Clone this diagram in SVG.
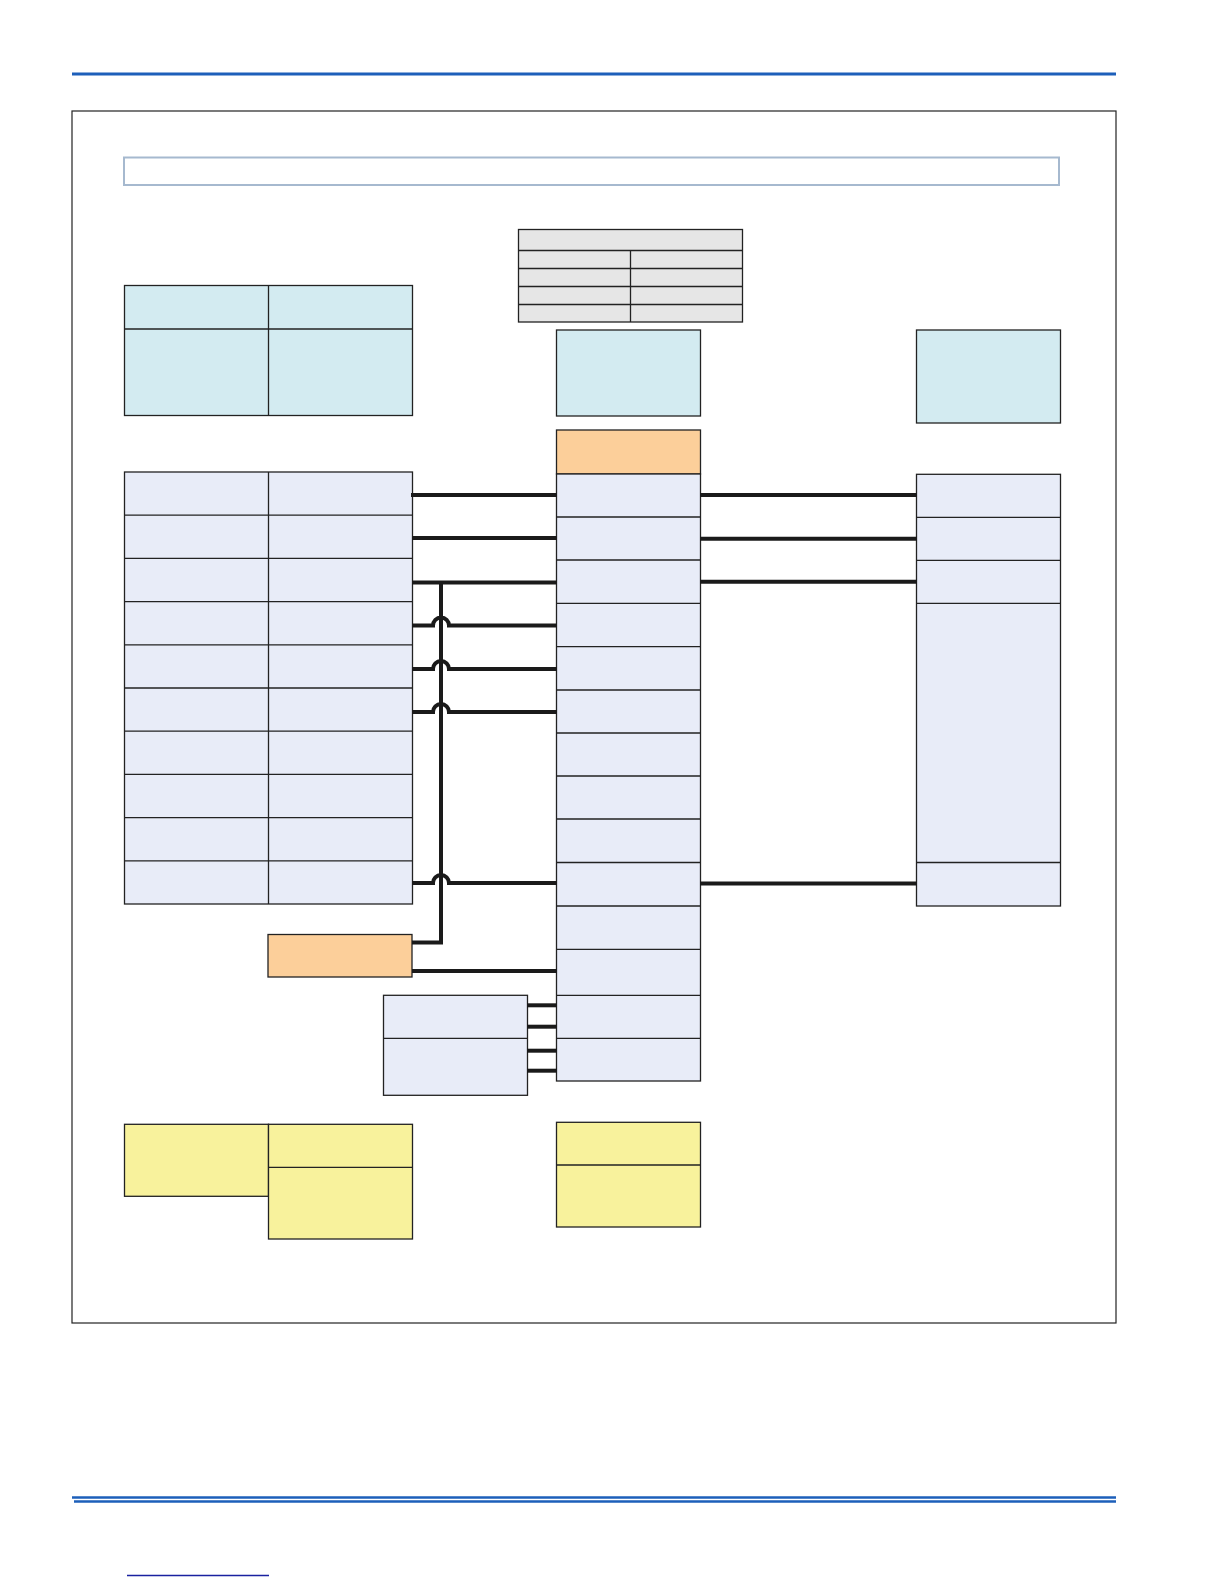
<svg xmlns="http://www.w3.org/2000/svg" width="1224" height="1584" viewBox="0 0 1224 1584">
  <style>
    .c { stroke: #222; stroke-width: 1.3; }
    .blue { fill: #d3ebf1; }
    .lav { fill: #e8ecf8; }
    .org { fill: #fccf9a; }
    .yel { fill: #f8f29c; }
    .gray { fill: #e6e6e6; }
    .wire { fill: none; stroke: #1a1a1a; stroke-width: 4; }
    .rule { stroke: #1d5fba; fill: none; }
  </style>
  <rect width="1224" height="1584" fill="#ffffff"/>

  <g id="page-rules">
    <line class="rule" x1="72" y1="74" x2="1116" y2="74" stroke-width="3"/>
    <line class="rule" x1="72" y1="1497.5" x2="1116" y2="1497.5" stroke-width="2.5"/>
    <line class="rule" x1="74" y1="1501.5" x2="1116" y2="1501.5" stroke-width="2.5"/>
    <line x1="127" y1="1575.5" x2="269" y2="1575.5" stroke="#1a22a0" stroke-width="1.5"/>
  </g>

  <g id="frame">
    <rect x="72" y="111" width="1044" height="1212" fill="#ffffff" stroke="#222" stroke-width="1.2"/>
  </g>

  <g id="title-bar">
    <rect x="124" y="157.5" width="935" height="27.5" fill="#ffffff" stroke="#a6b9cf" stroke-width="2"/>
  </g>

  <g id="legend-table">
    <rect class="c gray" x="518.5" y="229.5" width="224" height="92.5"/>
    <line class="c" x1="518.5" y1="250.5" x2="742.5" y2="250.5"/>
    <line class="c" x1="518.5" y1="268.5" x2="742.5" y2="268.5"/>
    <line class="c" x1="518.5" y1="286.5" x2="742.5" y2="286.5"/>
    <line class="c" x1="518.5" y1="304.5" x2="742.5" y2="304.5"/>
    <line class="c" x1="630.5" y1="250.5" x2="630.5" y2="322"/>
  </g>

  <g id="left-header">
    <rect class="c blue" x="124.5" y="285.5" width="288" height="130"/>
    <line class="c" x1="124.5" y1="329" x2="412.5" y2="329"/>
    <line class="c" x1="268.5" y1="285.5" x2="268.5" y2="415.5"/>
  </g>

  <g id="mid-header">
    <rect class="c blue" x="556.5" y="330" width="144" height="86"/>
  </g>

  <g id="right-header">
    <rect class="c blue" x="916.5" y="330" width="144" height="93"/>
  </g>

  <g id="mid-orange">
    <rect class="c org" x="556.5" y="430" width="144" height="44"/>
  </g>

  <g id="left-table">
    <rect class="c lav" x="124.5" y="472" width="288" height="432"/>
    <line class="c" x1="268.5" y1="472" x2="268.5" y2="904"/>
    <line class="c" x1="124.5" y1="515.2" x2="412.5" y2="515.2"/>
    <line class="c" x1="124.5" y1="558.4" x2="412.5" y2="558.4"/>
    <line class="c" x1="124.5" y1="601.6" x2="412.5" y2="601.6"/>
    <line class="c" x1="124.5" y1="644.8" x2="412.5" y2="644.8"/>
    <line class="c" x1="124.5" y1="688" x2="412.5" y2="688"/>
    <line class="c" x1="124.5" y1="731.2" x2="412.5" y2="731.2"/>
    <line class="c" x1="124.5" y1="774.4" x2="412.5" y2="774.4"/>
    <line class="c" x1="124.5" y1="817.6" x2="412.5" y2="817.6"/>
    <line class="c" x1="124.5" y1="860.8" x2="412.5" y2="860.8"/>
  </g>

  <g id="mid-column">
    <rect class="c lav" x="556.5" y="474" width="144" height="607"/>
    <line class="c" x1="556.5" y1="517" x2="700.5" y2="517"/>
    <line class="c" x1="556.5" y1="560" x2="700.5" y2="560"/>
    <line class="c" x1="556.5" y1="603.3" x2="700.5" y2="603.3"/>
    <line class="c" x1="556.5" y1="646.7" x2="700.5" y2="646.7"/>
    <line class="c" x1="556.5" y1="690" x2="700.5" y2="690"/>
    <line class="c" x1="556.5" y1="733" x2="700.5" y2="733"/>
    <line class="c" x1="556.5" y1="776" x2="700.5" y2="776"/>
    <line class="c" x1="556.5" y1="819" x2="700.5" y2="819"/>
    <line class="c" x1="556.5" y1="862.5" x2="700.5" y2="862.5"/>
    <line class="c" x1="556.5" y1="906" x2="700.5" y2="906"/>
    <line class="c" x1="556.5" y1="949.3" x2="700.5" y2="949.3"/>
    <line class="c" x1="556.5" y1="995.3" x2="700.5" y2="995.3"/>
    <line class="c" x1="556.5" y1="1038.3" x2="700.5" y2="1038.3"/>
  </g>

  <g id="right-column">
    <rect class="c lav" x="916.5" y="474.3" width="144" height="431.7"/>
    <line class="c" x1="916.5" y1="517.3" x2="1060.5" y2="517.3"/>
    <line class="c" x1="916.5" y1="560.3" x2="1060.5" y2="560.3"/>
    <line class="c" x1="916.5" y1="603.3" x2="1060.5" y2="603.3"/>
    <line class="c" x1="916.5" y1="862.5" x2="1060.5" y2="862.5"/>
  </g>

  <g id="left-orange">
    <rect class="c org" x="268" y="934.5" width="144" height="42.5"/>
  </g>

  <g id="lower-box">
    <rect class="c lav" x="383.5" y="995.3" width="144" height="100"/>
    <line class="c" x1="383.5" y1="1038.3" x2="527.5" y2="1038.3"/>
  </g>

  <g id="yellow-left">
    <rect class="c yel" x="124.5" y="1124.3" width="144" height="72"/>
    <rect class="c yel" x="268.5" y="1124.3" width="144" height="114.7"/>
    <line class="c" x1="268.5" y1="1167.3" x2="412.5" y2="1167.3"/>
  </g>

  <g id="yellow-mid">
    <rect class="c yel" x="556.5" y="1122.3" width="144" height="104.7"/>
    <line class="c" x1="556.5" y1="1165" x2="700.5" y2="1165"/>
  </g>

  <g id="connectors">
    <line class="wire" x1="411" y1="495" x2="557" y2="495"/>
    <line class="wire" x1="412" y1="538" x2="557" y2="538"/>
    <line class="wire" x1="412" y1="582.5" x2="557" y2="582.5"/>
    <path class="wire" d="M441,582.5 V942.5 H412"/>
    <path class="wire" d="M412,625.5 H433 A8,8 0 0 1 449,625.5 H557"/>
    <path class="wire" d="M412,669 H433 A8,8 0 0 1 449,669 H557"/>
    <path class="wire" d="M412,712 H433 A8,8 0 0 1 449,712 H557"/>
    <path class="wire" d="M412,883 H433 A8,8 0 0 1 449,883 H557"/>
    <line class="wire" x1="412" y1="971" x2="557" y2="971"/>
    <line class="wire" x1="700" y1="495" x2="917" y2="495"/>
    <line class="wire" x1="700" y1="538.7" x2="917" y2="538.7"/>
    <line class="wire" x1="700" y1="581.7" x2="917" y2="581.7"/>
    <line class="wire" x1="700" y1="883.5" x2="917" y2="883.5"/>
    <line class="wire" x1="527" y1="1005.3" x2="557" y2="1005.3"/>
    <line class="wire" x1="527" y1="1026.7" x2="557" y2="1026.7"/>
    <line class="wire" x1="527" y1="1050.7" x2="557" y2="1050.7"/>
    <line class="wire" x1="527" y1="1070.7" x2="557" y2="1070.7"/>
  </g>
</svg>
